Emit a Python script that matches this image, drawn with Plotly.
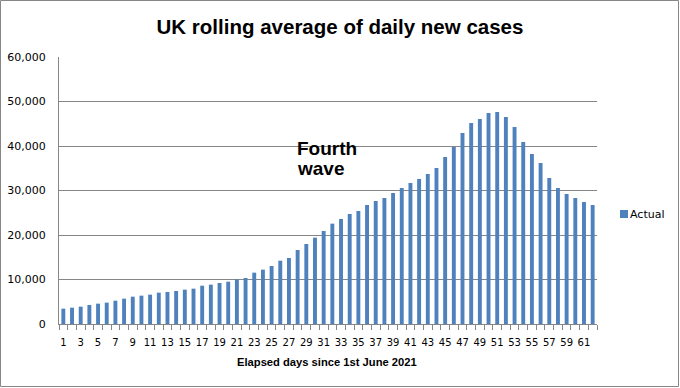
import plotly.graph_objects as go

days = list(range(1, 63))
actual = [3450, 3670, 3900, 4270, 4570, 4800, 5240, 5700, 6140, 6370,
          6590, 7040, 7190, 7420, 7720, 7940, 8610, 8840, 9210, 9510,
          10040, 10340, 11540, 12210, 13030, 14230, 14830, 16630, 17980, 19400,
          20900, 22550, 23600, 24720, 25390, 26740, 27640, 28310, 29440, 30560,
          31690, 32580, 33710, 35060, 37530, 39780, 42920, 45170, 46070, 47420,
          47640, 46520, 44270, 40900, 38200, 36180, 32810, 30560, 29210, 28310,
          27420, 26740]
x_labels = list(range(1, 63, 2))
y_ticks = [0, 10000, 20000, 30000, 40000, 50000, 60000]
series_name = "Actual"
bar_color = "#4F81BD"

L, R, T, B = 59, 83, 57, 64
W, H = 680, 388
PW, PH = W - L - R, H - T - B


def px_x(px):
    return (px - L) / PW


def px_y(py):
    return (H - B - py) / PH


fig = go.Figure()
fig.add_trace(go.Bar(x=days, y=actual, name=series_name, width=0.45,
                     marker=dict(color=bar_color, line=dict(width=0))))

fig.update_layout(
    width=W, height=H,
    margin=dict(l=L, r=R, t=T, b=B, autoexpand=False),
    paper_bgcolor="white", plot_bgcolor="white",
    title=dict(text="<b>UK rolling average of daily new cases</b>", x=0.5, xanchor="center",
               y=1 - 27 / H, yanchor="middle",
               font=dict(family="Liberation Sans", size=20.5, color="black")),
    font=dict(family="DejaVu Sans", size=11, color="black"),
    showlegend=False,
)
fig.update_xaxes(range=[0.5, 62.5], tickmode="array", tickvals=x_labels,
                 ticktext=[str(v) for v in x_labels], ticks="outside", ticklen=9,
                 tickcolor="rgba(0,0,0,0)", automargin=False,
                 tickfont=dict(family="DejaVu Sans", size=10),
                 showline=True, linecolor="#868686", linewidth=1,
                 showgrid=False, zeroline=False,
                 minor=dict(tickmode="linear", tick0=0.5, dtick=1, ticks="outside",
                            ticklen=5, tickcolor="#868686", showgrid=False))
fig.update_yaxes(range=[0, 60000], tickvals=y_ticks, automargin=False,
                 ticktext=[f"{v:,}" for v in y_ticks],
                 tickfont=dict(family="DejaVu Sans", size=11),
                 showgrid=True, gridcolor="#868686", gridwidth=1,
                 showline=True, linecolor="#868686", linewidth=1,
                 ticks="outside", ticklen=10, tickcolor="rgba(0,0,0,0)",
                 zeroline=False)

# x axis title
fig.add_annotation(text="<b>Elapsed days since 1st June 2021</b>", xref="paper", yref="paper",
                   x=px_x(327), y=px_y(362), xanchor="center", yanchor="middle",
                   showarrow=False,
                   font=dict(family="Liberation Sans", size=11.2, color="black"))

# "Fourth wave" label
fig.add_annotation(text="<b>Fourth</b>", xref="paper", yref="paper",
                   x=px_x(295), y=px_y(148), xanchor="left", yanchor="middle",
                   showarrow=False,
                   font=dict(family="Liberation Sans", size=19, color="black"))
fig.add_annotation(text="<b>wave</b>", xref="paper", yref="paper",
                   x=px_x(295), y=px_y(168), xanchor="left", yanchor="middle",
                   showarrow=False,
                   font=dict(family="Liberation Sans", size=19, color="black"))

# legend (drawn manually to match position)
fig.add_shape(type="rect", xref="paper", yref="paper",
              x0=px_x(620), x1=px_x(628), y0=px_y(218), y1=px_y(210),
              line=dict(width=0), fillcolor=bar_color)
fig.add_annotation(text=series_name, xref="paper", yref="paper",
                   x=px_x(628), y=px_y(214), xanchor="left", yanchor="middle",
                   showarrow=False,
                   font=dict(family="DejaVu Sans", size=11, color="black"))

# chart border
fig.add_shape(type="rect", xref="paper", yref="paper",
              x0=px_x(0.5), x1=px_x(W - 1.5), y0=px_y(H - 1.5), y1=px_y(0.5),
              line=dict(color="#868686", width=1), fillcolor="rgba(0,0,0,0)", layer="below")

fig.write_html("out.html", config={"displayModeBar": False})
with open("out.html", encoding="utf-8") as f:
    html = f.read()
html = html.replace("<body>", '<body style="margin:0;padding:0;overflow:hidden">', 1)
with open("out.html", "w", encoding="utf-8") as f:
    f.write(html)
